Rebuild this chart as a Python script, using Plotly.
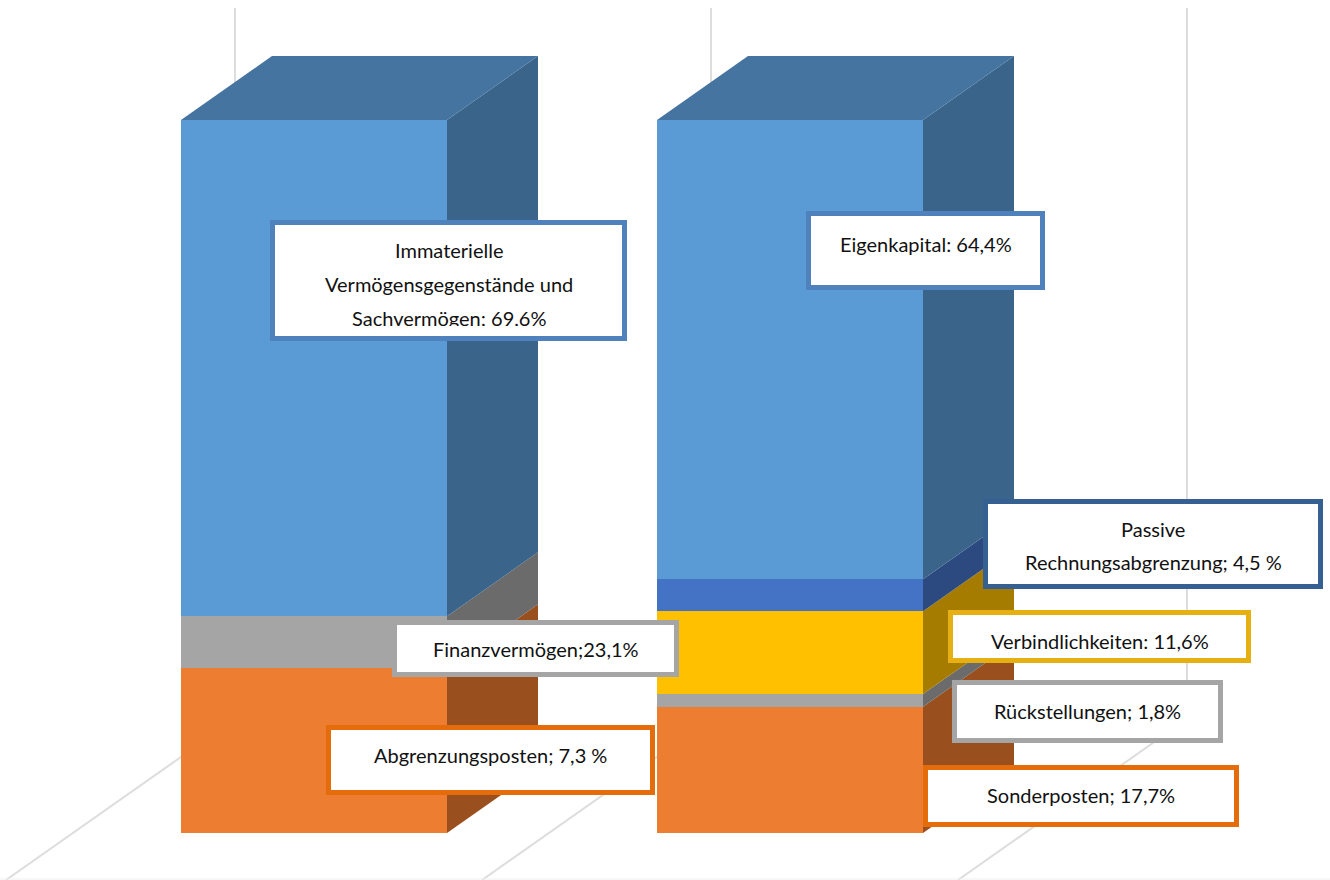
import plotly.graph_objects as go

# ---- data ----
categories = ["Aktiva", "Passiva"]
orange_values = [23.1, 17.7]
gray_values = [7.3, 1.8]
yellow_values = [0, 11.6]
darkblue_values = [0, 4.5]
blue_values = [69.6, 64.4]
series_names = ["Sonderposten", "Rückstellungen", "Verbindlichkeiten", "Rechnungsabgrenzung", "Hauptposten"]
label_left = ["Immaterielle<br>Vermögensgegenstände und<br>Sachvermögen; 69,6%", "Finanzvermögen;23,1%", "Abgrenzungsposten; 7,3 %"]
label_right = ["Eigenkapital: 64,4%", "Passive<br>Rechnungsabgrenzung; 4,5 %", "Verbindlichkeiten: 11,6%", "Rückstellungen; 1,8%", "Sonderposten; 17,7%"]

# ---- style / layout ----
W, H = 1330, 880
front = ["#ED7D31", "#A5A5A5", "#FFC000", "#4472C4", "#5B9BD5"]
side = ["#9A4F1E", "#6B6B6B", "#A67C00", "#2C4A80", "#3A6489"]
top_col = "#44749F"
series = [orange_values, gray_values, yellow_values, darkblue_values, blue_values]

PX_PER_CAT = 476.0
PX_PER_PCT = 7.13
X0_PX, Y0_PX = 314.0, 833.0
BAR_W = 266 / PX_PER_CAT
DX = 91 / PX_PER_CAT
DY = 64 / PX_PER_PCT

def x_of(px):
    return (px - X0_PX) / PX_PER_CAT

def y_of(py):
    return (Y0_PX - py) / PX_PER_PCT

x_pos = list(range(len(categories)))
fig = go.Figure()

# front faces, through the stacked bars
for name, vals, col in zip(series_names, series, front):
    fig.add_trace(go.Bar(x=x_pos, y=vals, name=name, width=BAR_W, marker=dict(color=col, line=dict(width=0)),
                         hoverinfo="skip"))

# side and top faces, projected from the same values
for i in x_pos:
    xr = i + BAR_W / 2
    xl = i - BAR_W / 2
    base = 0.0
    for vals, col in zip(series, side):
        v = vals[i]
        if v > 0:
            t = base + v
            fig.add_trace(go.Scatter(x=[xr, xr + DX, xr + DX, xr, xr], y=[base, base + DY, t + DY, t, base],
                                     mode="lines", fill="toself", fillcolor=col, line=dict(width=0),
                                     showlegend=False, hoverinfo="skip"))
            base = t
    fig.add_trace(go.Scatter(x=[xl, xl + DX, xr + DX, xr, xl], y=[base, base + DY, base + DY, base, base],
                             mode="lines", fill="toself", fillcolor=top_col, line=dict(width=0),
                             showlegend=False, hoverinfo="skip"))

# gridlines of the back wall and the floor
grid = "#DDDDDD"
shapes = []
for px in (235, 711, 1187):
    shapes.append(dict(type="line", layer="below", xref="x", yref="y", x0=x_of(px), x1=x_of(px),
                       y0=y_of(719), y1=y_of(8), line=dict(color=grid, width=2)))
    shapes.append(dict(type="line", layer="below", xref="x", yref="y", x0=x_of(px), x1=x_of(px - 229),
                       y0=y_of(719), y1=y_of(880), line=dict(color=grid, width=2)))
shapes.append(dict(type="line", layer="below", xref="x", yref="y", x0=x_of(0), x1=x_of(1330),
                   y0=y_of(879), y1=y_of(879), line=dict(color="#F0F0F0", width=1)))

# label boxes: text, left, right, top, bottom, colour, text centres
boxes = [
    (label_left[0], 270, 627, 220, 341, "#4F81BD", [250, 284, 318]),
    (label_left[1], 392, 679, 620, 677, "#A5A5A5", [649]),
    (label_left[2], 326, 655, 725, 795, "#E46C0A", [755]),
    (label_right[0], 806, 1045, 211, 290, "#4F81BD", [244]),
    (label_right[1], 983, 1323, 499, 589, "#376092", [529, 562]),
    (label_right[2], 948, 1251, 610, 663, "#E6B012", [641]),
    (label_right[3], 952, 1223, 680, 743, "#A5A5A5", [711]),
    (label_right[4], 923, 1239, 765, 827, "#E46C0A", [795]),
]
BW = 5
anns = []
for text, l, r, t, b, col, centres in boxes:
    anns.append(dict(xref="paper", yref="paper", x=(l + r) / 2 / W, y=1 - (t + b) / 2 / H,
                     xanchor="center", yanchor="middle", showarrow=False, text=" ",
                     width=r - l - 2 * BW, height=b - t - 2 * BW, borderpad=0, borderwidth=BW,
                     bordercolor=col, bgcolor="#FFFFFF"))
    for line, c in zip(text.split("<br>"), centres):
        anns.append(dict(xref="paper", yref="paper", x=(l + r) / 2 / W, y=1 - c / H,
                         xanchor="center", yanchor="middle", showarrow=False, text=line,
                         font=dict(family="Lato", size=20, color="#111111")))

# the third line of the first box is cut off at its lower edge in the original
anns.append(dict(xref="paper", yref="paper", x=448.5 / W, y=1 - 331 / H, xanchor="center", yanchor="middle",
                 showarrow=False, text=" ", width=345, height=10, borderpad=0, borderwidth=0, bgcolor="#FFFFFF"))

fig.update_layout(
    width=W, height=H, margin=dict(l=0, r=0, t=0, b=0), barmode="stack", showlegend=False,
    paper_bgcolor="#FFFFFF", plot_bgcolor="#FFFFFF", hovermode=False,
    xaxis=dict(range=[x_of(0), x_of(W)], visible=False, fixedrange=True),
    yaxis=dict(range=[y_of(H), y_of(0)], visible=False, fixedrange=True),
    shapes=shapes, annotations=anns,
)
fig.write_html("out.html", config={"displayModeBar": False},
               post_script="document.body.style.margin='0';document.documentElement.style.overflow='hidden';")
